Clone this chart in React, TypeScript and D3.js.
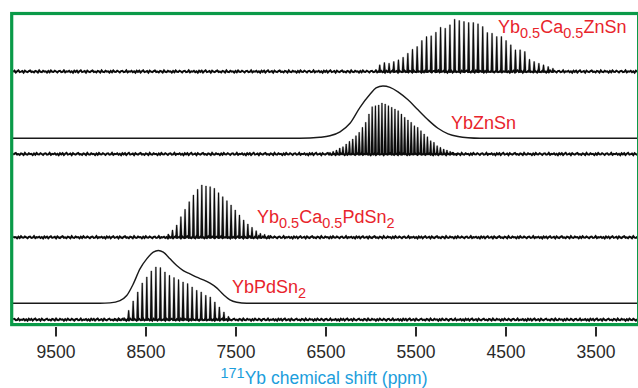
import React from "react";
import * as d3 from "d3";

const W = 638;
const H = 388;

// Axis ticks (ppm)
const tickValues = [9500, 8500, 7500, 6500, 5500, 4500, 3500];

// Spinning-sideband manifolds: first sideband (ppm), sideband spacing (ppm), intensities
const caZnSnFirst = 5903;
const caZnSnSpacing = 52;
const caZnSnIntensity = [
  20, 27, 25, 30, 35, 43, 55, 67, 75, 93, 105, 107, 118, 133, 130, 140, 157, 153, 150,
  147, 147, 143, 135, 117, 115, 105, 105, 93, 80, 65, 65, 60, 37, 30, 25, 20, 15, 10,
];

const znSnFirst = 6456;
const znSnSpacing = 36.1;
const znSnIntensity = [
  5, 8, 12, 18, 22, 30, 38, 45, 55, 65, 80, 95, 120, 142, 145, 147, 153, 150, 145, 140,
  135, 130, 120, 110, 102, 95, 85, 80, 70, 60, 52, 40, 35, 25, 20, 15, 12, 8, 5, 3,
];

const caPdSn2First = 8252;
const caPdSn2Spacing = 46.5;
const caPdSn2Intensity = [
  10, 22, 37, 62, 84, 107, 127, 144, 157, 154, 152, 147, 134, 122, 110, 97, 82, 67, 52,
  40, 30, 20, 12, 9, 6,
];

const pdSn2First = 8844;
const pdSn2Spacing = 50.4;
const pdSn2Intensity = [
  2, 4, 6, 28, 56, 83, 110, 128, 146, 158, 156, 143, 133, 126, 120, 113, 108, 98, 88, 83,
  73, 68, 53, 38, 23, 10,
];

// Static (non-spinning) envelopes: [ppm, intensity]
const znSnStaticPpm = [10000, 6789, 6567, 6456, 6344, 6233, 6122, 6011, 5944, 5867, 5789, 5700, 5589, 5478, 5367, 5256, 5144, 5033, 4922, 4789, 3000];
const znSnStaticInt = [0, 0, 3, 7.5, 19.5, 45, 93, 132, 151, 157, 153, 139.5, 115.5, 85.5, 55.5, 30, 13.5, 5.4, 1.5, 0, 0];

const pdSn2StaticPpm = [10000, 9011, 8900, 8789, 8714, 8641, 8567, 8492, 8419, 8363, 8308, 8233, 8159, 8086, 8011, 7937, 7863, 7789, 7714, 7641, 7567, 7492, 7381, 3000];
const pdSn2StaticInt = [0, 0, 1, 8, 23, 58, 103, 133, 153, 158, 153, 133, 113, 98, 88, 78, 70, 60, 46, 26, 10, 3, 0, 0];

// Baseline noise profile (relative units), repeated along each trace
const noise = [
  0.3, -0.6, 0.8, -0.2, -0.9, 0.5, 0.1, -0.4, 0.9, -0.7, 0.2, 0.6, -0.3, -0.8, 0.4, 0.0,
  0.7, -0.5, -0.1, 0.8, -0.9, 0.3, 0.5, -0.6, 0.1, -0.2, 0.9, -0.4, 0.6, -0.8, 0.2, 0.4,
  -0.7, 0.0, 0.8, -0.3, -0.6, 0.5, 0.3, -0.9, 0.7, -0.1, 0.2, -0.5, 0.6, -0.2, 0.9, -0.7,
];

const FONT = "'Liberation Sans', Arial, Helvetica, sans-serif";
const GREEN = "#0a9a48";
const RED = "#e8242c";
const BLUE = "#1c9edc";
const INK = "#0c0c0c";

const x = d3.scaleLinear().domain([10000, 3000]).range([11, 641]);
const amp = d3.scaleLinear().domain([0, 150]).range([0, 50]);

const boxLeft = 11.7;
const boxTop = 13.5;
const boxRight = 638.6;
const boxBottom = 324.6;

function noisyBaseline(base: number, offset: number, scale: number) {
  const pts: [number, number][] = [];
  let i = 0;
  for (let px = boxLeft + 1.5; px <= boxRight - 1; px += 1.3) {
    pts.push([px, base + noise[(i + offset) % noise.length] * scale]);
    i++;
  }
  return d3.line()(pts) as string;
}

function sticks(first: number, spacing: number, values: number[], base: number) {
  return values
    .map((v, i) => {
      const cx = x(first - i * spacing);
      const top = base - amp(v);
      return `M${cx - 1.4},${base + 1}L${cx - 0.5},${top}L${cx + 0.5},${top}L${cx + 1.4},${base + 1}Z`;
    })
    .join("");
}

function envelope(ppm: number[], vals: number[], base: number) {
  const pts: [number, number][] = ppm.map((p, i) => [x(p), base - amp(vals[i])]);
  return d3.line().curve(d3.curveMonotoneX)(pts.slice().sort((a, b) => a[0] - b[0])) as string;
}

type Part = { t: string; sub?: boolean };

function Label({ x0, y0, parts }: { x0: number; y0: number; parts: Part[] }) {
  let prevSub = false;
  return (
    <text x={x0} y={y0} fontFamily={FONT} fontSize={18} fill={RED}>
      {parts.map((p, i) => {
        const dy = p.sub && !prevSub ? 5 : !p.sub && prevSub ? -5 : 0;
        prevSub = !!p.sub;
        return (
          <tspan key={i} dy={dy} fontSize={p.sub ? 14.5 : 18}>
            {p.t}
          </tspan>
        );
      })}
    </text>
  );
}

export default function App() {
  const traces = [
    { base: 71.5, first: caZnSnFirst, spacing: caZnSnSpacing, vals: caZnSnIntensity, off: 0 },
    { base: 154, first: znSnFirst, spacing: znSnSpacing, vals: znSnIntensity, off: 11 },
    { base: 237.3, first: caPdSn2First, spacing: caPdSn2Spacing, vals: caPdSn2Intensity, off: 23 },
    { base: 319.6, first: pdSn2First, spacing: pdSn2Spacing, vals: pdSn2Intensity, off: 35 },
  ];

  return (
    <svg
      width={W}
      height={H}
      viewBox={`0 0 ${W} ${H}`}
      style={{ position: "absolute", left: 0, top: 0, background: "#fff" }}
    >
      <rect x={0} y={0} width={W} height={H} fill="#fff" />

      {/* static envelopes */}
      <path d={envelope(znSnStaticPpm, znSnStaticInt, 138.3)} fill="none" stroke="#1a1a1a" strokeWidth={1.4} />
      <path d={envelope(pdSn2StaticPpm, pdSn2StaticInt, 303.2)} fill="none" stroke="#1a1a1a" strokeWidth={1.4} />

      {/* MAS spectra */}
      {traces.map((t, i) => (
        <g key={i}>
          <path d={noisyBaseline(t.base, t.off, 1.2)} fill="none" stroke={INK} strokeWidth={2} />
          <path d={sticks(t.first, t.spacing, t.vals, t.base)} fill={INK} stroke={INK} strokeWidth={0.3} />
        </g>
      ))}

      {/* frame */}
      <rect
        x={boxLeft}
        y={boxTop}
        width={boxRight - boxLeft}
        height={boxBottom - boxTop}
        fill="none"
        stroke={GREEN}
        strokeWidth={3.2}
      />

      {/* x axis */}
      {tickValues.map((v) => (
        <g key={v}>
          <line x1={x(v)} x2={x(v)} y1={327} y2={336.5} stroke="#2a2a2a" strokeWidth={2} />
          <text x={x(v)} y={357.7} textAnchor="middle" fontFamily={FONT} fontSize={17.5} fill="#2a2a2a">
            {v}
          </text>
        </g>
      ))}
      <text x={324} y={384} textAnchor="middle" fontFamily={FONT} fill={BLUE} fontSize={17.5}>
        <tspan fontSize={14.5} dy={-6}>171</tspan>
        <tspan dy={6}>Yb chemical shift (ppm)</tspan>
      </text>

      {/* compound labels */}
      <Label x0={498} y0={33.3} parts={[{ t: "Yb" }, { t: "0.5", sub: true }, { t: "Ca" }, { t: "0.5", sub: true }, { t: "ZnSn" }]} />
      <Label x0={451} y0={129.3} parts={[{ t: "YbZnSn" }]} />
      <Label x0={257} y0={223.3} parts={[{ t: "Yb" }, { t: "0.5", sub: true }, { t: "Ca" }, { t: "0.5", sub: true }, { t: "PdSn" }, { t: "2", sub: true }]} />
      <Label x0={232} y0={293.3} parts={[{ t: "YbPdSn" }, { t: "2", sub: true }]} />
    </svg>
  );
}
